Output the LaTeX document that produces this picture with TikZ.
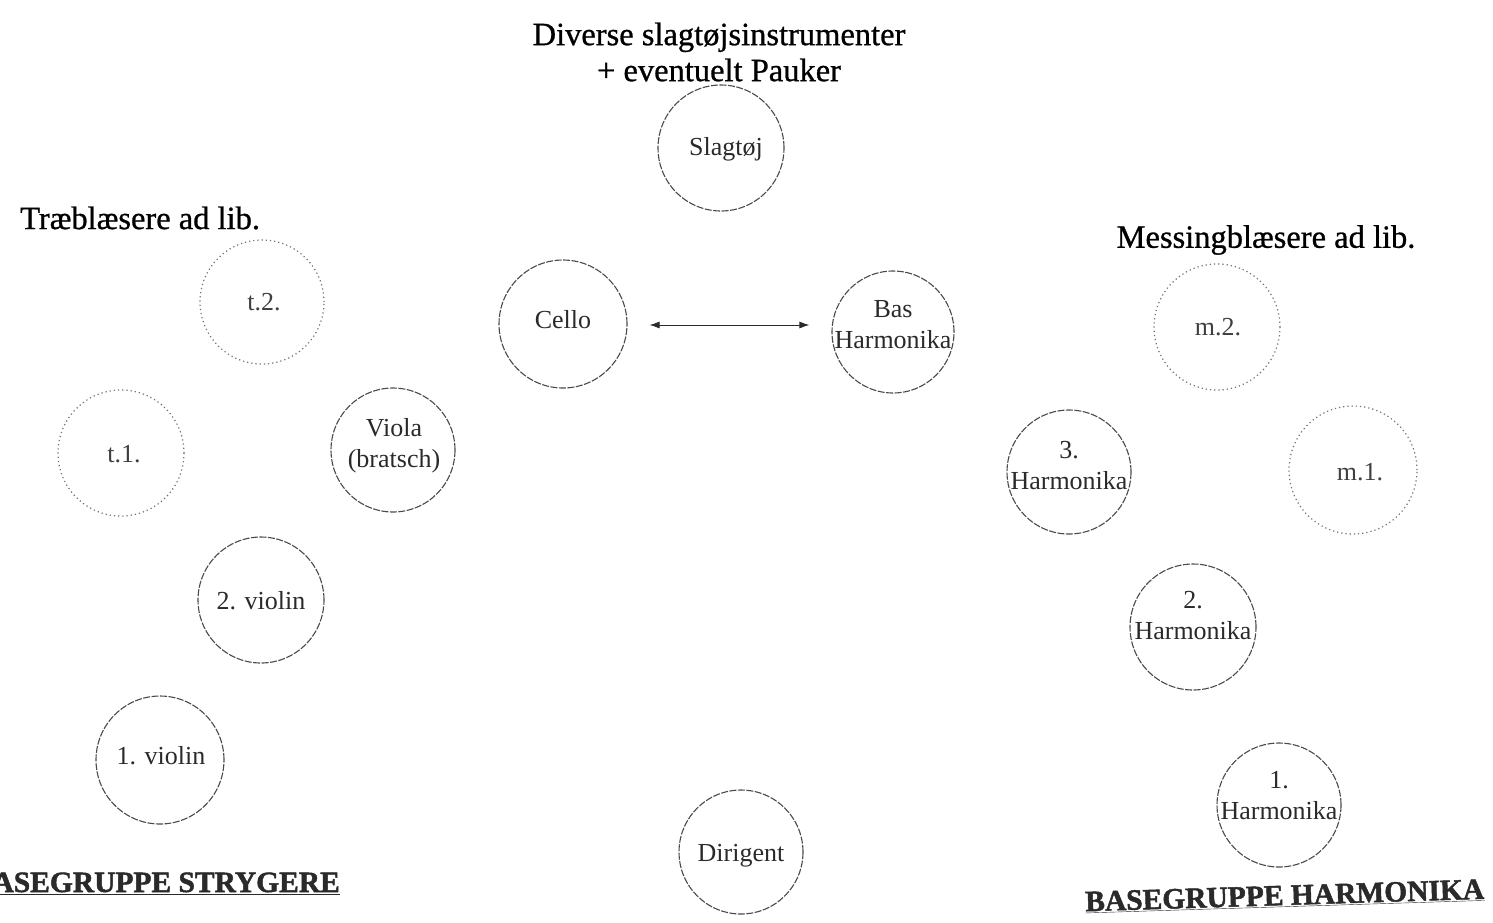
\documentclass[tikz,border=0pt]{standalone}
\usepackage{fontspec}
\setmainfont{Liberation Serif}
\newfontfamily\headfont[FakeBold=0.8]{Liberation Serif}
\newfontfamily\basefont[FakeBold=1.6]{Liberation Serif Bold}
\usetikzlibrary{arrows.meta}
\definecolor{ink}{HTML}{2A2A2A}
\definecolor{soft}{HTML}{707070}
\tikzset{
  inst/.style={circle, draw=ink!85, line width=1.1pt, dash pattern=on 7pt off 1.5pt, minimum size=#1, inner sep=0pt},
  inst/.default=124pt,
  optinst/.style={circle, draw=soft, line width=1.2pt, dash pattern=on 1.2pt off 3pt, minimum size=#1, inner sep=0pt},
  optinst/.default=124pt,
  lbl/.style={text=ink, font=\rmfamily\fontsize{26}{31}\selectfont, align=center, inner sep=0pt},
  optlbl/.style={text=ink!90, font=\rmfamily\fontsize{26}{31}\selectfont, align=center, inner sep=0pt},
  head/.style={text=black, font=\headfont\fontsize{32.5}{36}\selectfont, align=center, inner sep=0pt},
  base/.style={text=ink, font=\basefont\fontsize{29.5}{32}\selectfont, inner sep=0pt},
  arr/.style={{Latex[length=10pt,width=7pt]}-{Latex[length=10pt,width=7pt]}, line width=0.9pt, draw=ink}
}
\begin{document}
\begin{tikzpicture}[x=1pt,y=-1pt]
\useasboundingbox (0,0) rectangle (1493,922);
% headings
\node[head] (hslag) at (719,52) {Diverse slagtøjsinstrumenter\\+ eventuelt Pauker};
\node[head, anchor=west] (htrae) at (20,218) {Træblæsere ad lib.};
\node[head] (hmess) at (1266,240) {Messingblæsere ad lib.};
% centre
\node[inst=126pt] (slag) at (721,148) {};
\node[lbl] (slagt) at (726,149) {Slagtøj};
\node[inst=128pt] (cello) at (563,324) {};
\node[lbl] (cellot) at (563,320) {Cello};
\node[inst=122pt] (bas) at (893,332) {};
\node[lbl] (bast) at (893,325) {Bas\\Harmonika};
\node[inst=124pt] (dir) at (741,852) {};
\node[lbl] (dirt) at (741,856) {Dirigent};
% strings / woodwinds
\node[optinst] (t2) at (262,302) {};
\node[optlbl] (t2t) at (264,302) {t.2.};
\node[optinst=126pt] (t1) at (121,453) {};
\node[optlbl] (t1t) at (124,454) {t.1.};
\node[inst] (viola) at (393,450) {};
\node[lbl] (violat) at (394,446) {Viola\\(bratsch)};
\node[inst=126pt] (v2) at (261,600) {};
\node[lbl] (v2t) at (261,601) {2. violin};
\node[inst=128pt] (v1) at (160,760) {};
\node[lbl] (v1t) at (161,756) {1. violin};
% harmonicas / brass
\node[optinst=126pt] (m2) at (1217,327) {};
\node[optlbl] (m2t) at (1218,327) {m.2.};
\node[optinst=128pt] (m1) at (1353,470) {};
\node[optlbl] (m1t) at (1360,472) {m.1.};
\node[inst] (h3) at (1069,472) {};
\node[lbl] (h3t) at (1069,466) {3.\\Harmonika};
\node[inst=126pt] (h2) at (1193,627) {};
\node[lbl] (h2t) at (1193,616) {2.\\Harmonika};
\node[inst] (h1) at (1279,805) {};
\node[lbl] (h1t) at (1279,796) {1.\\Harmonika};
% connector (horizontal, from Cello towards Bas Harmonika)
\draw[arr] ([xshift=22pt,yshift=-1pt]cello.east) -- ([xshift=-22pt,yshift=-1pt]cello.east -| bas.west);
% base group labels
\node[base, anchor=base east] (bstr) at (340,892) {\underline{BASEGRUPPE STRYGERE}};
\node[base, rotate=1.8, anchor=base] (bharm) at (1285,905) {\underline{BASEGRUPPE HARMONIKA}};
\end{tikzpicture}
\end{document}
